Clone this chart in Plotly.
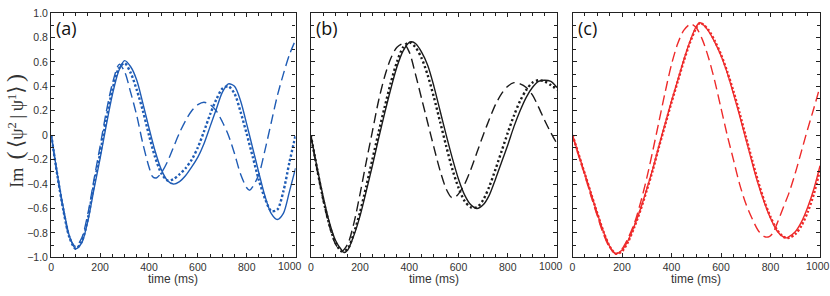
import plotly.graph_objects as go

# ---------------- data ----------------
t25 = list(range(0, 1001, 25))

# panel (a) – blue
a_solid = [0, -0.32, -0.60, -0.83, -0.93, -0.88, -0.70, -0.44, -0.19, 0.08, 0.33, 0.52, 0.61,
           0.56, 0.45, 0.26, 0.06, -0.13, -0.28, -0.37, -0.40, -0.38, -0.33, -0.26, -0.18, -0.07,
           0.07, 0.21, 0.35, 0.42, 0.40, 0.28, 0.09, -0.11, -0.31, -0.50, -0.64, -0.69, -0.64,
           -0.46, -0.27]
a_dot = [0, -0.33, -0.62, -0.84, -0.93, -0.87, -0.68, -0.40, -0.15, 0.13, 0.37, 0.54, 0.59,
         0.51, 0.37, 0.20, 0.00, -0.18, -0.31, -0.37, -0.36, -0.32, -0.27, -0.20, -0.10, 0.03,
         0.17, 0.29, 0.38, 0.40, 0.34, 0.19, 0.01, -0.18, -0.37, -0.52, -0.62, -0.61, -0.46,
         -0.22, 0.0]
a_dash_t = [0, 25, 50, 75, 100, 125, 150, 175, 200, 225, 250, 278, 300, 325, 350, 375, 400, 415,
            430, 450, 475, 500, 525, 550, 575, 600, 625, 650, 675, 700, 725, 750, 775, 800, 812,
            825, 850, 875, 900, 925, 950, 975, 1000]
a_dash = [0, -0.33, -0.62, -0.84, -0.91, -0.84, -0.64, -0.36, -0.09, 0.19, 0.42, 0.58, 0.52,
          0.35, 0.16, -0.07, -0.26, -0.34, -0.35, -0.31, -0.22, -0.10, 0.02, 0.12, 0.20, 0.25,
          0.27, 0.25, 0.20, 0.11, 0.00, -0.15, -0.32, -0.43, -0.45, -0.42, -0.32, -0.12, 0.10,
          0.32, 0.50, 0.66, 0.78]

# panel (b) – black
b_solid_t = [0, 25, 50, 75, 100, 125, 135, 150, 175, 200, 225, 250, 275, 300, 325, 350, 375, 400,
             410, 425, 450, 475, 500, 525, 550, 575, 600, 625, 650, 675, 700, 725, 750, 775, 800,
             825, 850, 875, 900, 925, 950, 975, 1000]
b_solid = [0, -0.26, -0.50, -0.71, -0.86, -0.94, -0.96, -0.94, -0.82, -0.66, -0.46, -0.25, -0.03,
           0.18, 0.38, 0.56, 0.69, 0.76, 0.765, 0.75, 0.68, 0.57, 0.40, 0.20, 0.00, -0.19, -0.36,
           -0.49, -0.57, -0.60, -0.57, -0.49, -0.36, -0.22, -0.08, 0.07, 0.20, 0.31, 0.39, 0.44,
           0.45, 0.44, 0.39]
b_dot = [0, -0.27, -0.52, -0.73, -0.88, -0.95, -0.93, -0.80, -0.63, -0.42, -0.20, 0.02, 0.23,
         0.43, 0.60, 0.72, 0.76, 0.72, 0.63, 0.49, 0.31, 0.11, -0.09, -0.28, -0.43, -0.54, -0.59,
         -0.59, -0.53, -0.42, -0.28, -0.13, 0.02, 0.16, 0.28, 0.37, 0.43, 0.45, 0.44, 0.41, 0.37]
b_dash_t = [0, 25, 50, 75, 100, 125, 150, 175, 200, 225, 250, 275, 300, 325, 350, 378, 400, 425,
            450, 475, 500, 525, 550, 572, 590, 600, 625, 650, 675, 700, 725, 750, 775, 800, 825,
            850, 875, 900, 925, 950, 975, 1000]
b_dash = [0, -0.28, -0.53, -0.74, -0.89, -0.95, -0.89, -0.72, -0.48, -0.22, 0.03, 0.28, 0.48,
          0.63, 0.72, 0.75, 0.68, 0.50, 0.30, 0.10, -0.10, -0.29, -0.44, -0.51, -0.50, -0.48,
          -0.40, -0.28, -0.14, 0.00, 0.13, 0.25, 0.34, 0.40, 0.43, 0.42, 0.39, 0.33, 0.23, 0.12,
          0.02, -0.07]

# panel (c) – red
c_solid_t = [0, 25, 50, 75, 100, 125, 150, 175, 200, 225, 250, 275, 300, 325, 350, 375, 400, 425,
             450, 475, 500, 515, 525, 550, 575, 600, 625, 650, 675, 700, 725, 750, 775, 800, 825,
             850, 865, 875, 900, 925, 950, 975, 1000]
c_solid = [0, -0.16, -0.32, -0.48, -0.64, -0.79, -0.91, -0.97, -0.94, -0.86, -0.74, -0.60, -0.44,
           -0.27, -0.08, 0.10, 0.28, 0.45, 0.62, 0.77, 0.89, 0.92, 0.91, 0.85, 0.76, 0.65, 0.51,
           0.34, 0.16, -0.03, -0.22, -0.40, -0.55, -0.68, -0.78, -0.83, -0.84, -0.83, -0.79,
           -0.71, -0.59, -0.44, -0.25]
c_dot = [0, -0.16, -0.32, -0.48, -0.64, -0.79, -0.91, -0.97, -0.95, -0.87, -0.75, -0.61, -0.45,
         -0.28, -0.09, 0.09, 0.27, 0.44, 0.61, 0.76, 0.88, 0.92, 0.91, 0.86, 0.77, 0.66, 0.52,
         0.36, 0.18, -0.01, -0.20, -0.38, -0.54, -0.67, -0.77, -0.83, -0.84, -0.84, -0.81,
         -0.74, -0.63, -0.48, -0.28]
c_dash_t = [0, 25, 50, 75, 100, 125, 150, 175, 200, 225, 250, 275, 300, 325, 350, 375, 400, 425,
            450, 478, 500, 525, 550, 575, 600, 625, 650, 675, 700, 725, 750, 775, 795, 810, 825,
            850, 875, 900, 925, 950, 975, 1000]
c_dash = [0, -0.17, -0.33, -0.50, -0.66, -0.81, -0.92, -0.97, -0.93, -0.84, -0.72, -0.55, -0.35,
          -0.12, 0.12, 0.36, 0.58, 0.75, 0.86, 0.91, 0.88, 0.78, 0.63, 0.44, 0.22, 0.00, -0.20,
          -0.40, -0.56, -0.68, -0.78, -0.83, -0.83, -0.80, -0.73, -0.60, -0.47, -0.31, -0.13,
          0.05, 0.22, 0.40]

x_tickvals = [0, 200, 400, 600, 800, 1000]
x_ticktext = ["0", "200", "400", "600", "800", "1000"]
y_tickvals = [-1.0, -0.8, -0.6, -0.4, -0.2, 0, 0.2, 0.4, 0.6, 0.8, 1.0]
y_ticktext = ["\u22121.0", "\u22120.8", "\u22120.6", "\u22120.4", "\u22120.2", "0",
              "0.2", "0.4", "0.6", "0.8", "1.0"]
panel_labels = ["(a)", "(b)", "(c)"]
x_title = "time (ms)"
y_title = ("Im\u2009 <span style='font-size:24px'>(</span>\u2009<span style='font-size:21px'>\u27e8</span>"
           "\u03c8<sup>2</sup>\u2009|\u2009\u03c8<sup>1</sup>"
           "<span style='font-size:21px'>\u27e9</span>\u2009<span style='font-size:24px'>)</span>")

# ---------------- figure ----------------
W, H = 830, 296
BLUE, BLACK, RED = "#1f5cb5", "#1a1a1a", "#ee2a2a"

panels = [
    dict(color=BLUE, solid=(t25, a_solid), dot=(t25, a_dot), dash=(a_dash_t, a_dash)),
    dict(color=BLACK, solid=(b_solid_t, b_solid), dot=(t25, b_dot), dash=(b_dash_t, b_dash)),
    dict(color=RED, solid=(c_solid_t, c_solid), dot=(c_solid_t, c_dot), dash=(c_dash_t, c_dash)),
]
xdom_px = [(48.5, 294.0), (309.3, 556.7), (572.3, 821.0)]
ydom = [1 - 262.0 / H, 1 - 7.3 / H]
dot_dash = ["2.4px,2.2px", "2.2px,2.6px", "2.2px,2.0px"]
# the last x label of each panel is placed by hand (nudged left as in the reference)
last_label_shift = [-6, -6, -2]

fig = go.Figure()
for i, p in enumerate(panels):
    xa = "x" if i == 0 else f"x{i+1}"
    ya = "y" if i == 0 else f"y{i+1}"
    fig.add_trace(go.Scatter(x=p["dash"][0], y=p["dash"][1], mode="lines", xaxis=xa, yaxis=ya,
                             line=dict(color=p["color"], width=1.4, dash="10px,5px", shape="spline",
                                       smoothing=0.8), showlegend=False))
    fig.add_trace(go.Scatter(x=p["dot"][0], y=p["dot"][1], mode="lines", xaxis=xa, yaxis=ya,
                             line=dict(color=p["color"], width=2.4, dash=dot_dash[i], shape="spline",
                                       smoothing=0.8), showlegend=False))
    fig.add_trace(go.Scatter(x=p["solid"][0], y=p["solid"][1], mode="lines", xaxis=xa, yaxis=ya,
                             line=dict(color=p["color"], width=1.4, shape="spline", smoothing=0.8),
                             showlegend=False))

TICKFONT = dict(family="Liberation Sans, Arial", size=10.5, color="#333")
axis_common = dict(showline=True, linecolor="#222", linewidth=1.4, mirror="ticks",
                   ticks="inside", ticklen=4, tickwidth=1, tickcolor="#222",
                   showgrid=False, zeroline=False, tickfont=TICKFONT)
layout = dict(width=W, height=H, margin=dict(l=0, r=0, t=0, b=0),
              paper_bgcolor="white", plot_bgcolor="white", showlegend=False)
for i in range(3):
    xk = "xaxis" if i == 0 else f"xaxis{i+1}"
    yk = "yaxis" if i == 0 else f"yaxis{i+1}"
    x0, x1 = xdom_px[i]
    ttext = list(x_ticktext[:-1]) + [" "]
    layout[xk] = dict(axis_common, domain=[x0 / W, x1 / W], range=[0, 1000],
                      anchor="y" if i == 0 else f"y{i+1}",
                      tickvals=x_tickvals, ticktext=ttext,
                      minor=dict(dtick=50, tick0=0, ticks="inside", ticklen=3, tickcolor="#222"))
    layout[yk] = dict(axis_common, domain=ydom, range=[-1, 1],
                      anchor="x" if i == 0 else f"x{i+1}",
                      tickvals=y_tickvals, ticktext=y_ticktext,
                      showticklabels=(i == 0),
                      minor=dict(dtick=0.1, tick0=0, ticks="inside", ticklen=3, tickcolor="#222"))
fig.update_layout(**layout)

annotations = []
for i in range(3):
    x0, x1 = xdom_px[i]
    xa = "x" if i == 0 else f"x{i+1}"
    annotations.append(dict(text=panel_labels[i], x=(x0 + 3) / W, y=1 - 23 / H, xref="paper",
                            yref="paper", xanchor="left", yanchor="middle", showarrow=False,
                            font=dict(family="Open Sans, Liberation Sans", size=18, color="#111")))
    annotations.append(dict(text=x_title, x=(x0 + x1) / 2 / W, y=1 - 285 / H, xref="paper",
                            yref="paper", xanchor="center", yanchor="middle", showarrow=False,
                            font=dict(family="Liberation Sans, Arial", size=12, color="#333")))
    annotations.append(dict(text=x_ticktext[-1], x=x_tickvals[-1], xref=xa,
                            y=1 - 271.5 / H, yref="paper", xshift=last_label_shift[i],
                            xanchor="center", yanchor="middle", showarrow=False,
                            font=TICKFONT))
annotations.append(dict(text=y_title, x=12 / W, y=1 - 130 / H, xref="paper", yref="paper",
                        xanchor="center", yanchor="middle", textangle=-90, showarrow=False,
                        font=dict(family="Liberation Serif, DejaVu Serif", size=18, color="#333")))
fig.update_layout(annotations=annotations)

fig.write_html("out.html", config={"displayModeBar": False},
               post_script="document.body.style.margin='0px';document.body.style.overflow='hidden';")
